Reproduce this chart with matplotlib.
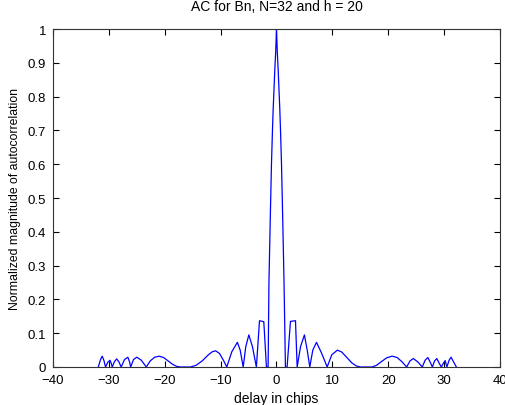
import matplotlib
matplotlib.use("Agg")
import matplotlib.pyplot as plt

# delay (chips) and normalized autocorrelation magnitude
delay = [-31.9, -31.5, -31.2, -30.9, -30.6, -30.2, -29.8, -29.6, -29.4,
         -29.0, -28.6, -28.2, -27.8, -27.2, -26.6, -26.3, -26.1, -25.6, -25.0,
         -24.2, -23.3, -22.6, -21.8, -21.0, -20.2, -19.4, -18.6, -17.9, -17.2,
         -15.4, -14.4, -13.3, -12.2, -11.5, -10.9, -10.2, -9.5, -8.9,
         -8.0, -7.0, -6.5, -5.96, -5.5, -4.95, -4.3, -3.6, -3.04, -2.27, -1.8,
         -1.5, -1.35, -1.1, -0.9, -0.72, -0.6, -0.45, -0.3, -0.15, 0.0,
         0.15, 0.3, 0.45, 0.6, 0.72, 0.9, 1.1, 1.35, 1.6,
         1.9, 2.5, 3.4, 3.7, 4.3, 5.0, 5.5, 5.96, 6.5, 7.16, 8.1, 9.07,
         9.9, 10.9, 11.7, 12.6, 13.5, 14.3, 15.0, 17.1,
         17.9, 18.8, 19.7, 20.7, 21.6, 22.5, 23.3,
         23.9, 24.5, 25.3, 26.1, 26.6, 27.1, 27.5, 27.9, 28.3, 28.7, 29.1, 29.5,
         29.9, 30.2, 30.5, 30.9, 31.25, 31.7, 32.2]
magnitude = [0.0, 0.022, 0.032, 0.02, 0.0, 0.014, 0.02, 0.012, 0.0,
             0.016, 0.024, 0.015, 0.0, 0.022, 0.029, 0.015, 0.0, 0.022, 0.029,
             0.02, 0.0, 0.018, 0.029, 0.032, 0.028, 0.018, 0.008, 0.002, 0.0,
             0.0, 0.005, 0.018, 0.036, 0.045, 0.048, 0.04, 0.02, 0.0,
             0.045, 0.073, 0.05, 0.0, 0.06, 0.095, 0.06, 0.0, 0.137, 0.134, 0.0,
             0.0, 0.25, 0.45, 0.6, 0.7, 0.76, 0.82, 0.88, 0.93, 1.0,
             0.93, 0.88, 0.82, 0.76, 0.7, 0.6, 0.45, 0.25, 0.0,
             0.0, 0.135, 0.137, 0.0, 0.06, 0.095, 0.05, 0.0, 0.05, 0.073, 0.04, 0.0,
             0.036, 0.05, 0.044, 0.028, 0.012, 0.003, 0.0, 0.0,
             0.005, 0.016, 0.027, 0.032, 0.028, 0.015, 0.0,
             0.018, 0.025, 0.015, 0.0, 0.02, 0.028, 0.015, 0.0, 0.018, 0.025, 0.012, 0.0,
             0.012, 0.019, 0.0, 0.02, 0.029, 0.015, 0.0]

x_ticks = list(range(-40, 41, 10))
y_ticks = [i / 10 for i in range(0, 11)]
y_tick_labels = ['0', '0.1', '0.2', '0.3', '0.4', '0.5', '0.6', '0.7', '0.8', '0.9', '1']

plt.rcParams['font.family'] = ['Liberation Sans', 'DejaVu Sans']

fig = plt.figure(figsize=(5.05, 4.06), dpi=100)
fig.patch.set_facecolor('white')
ax = fig.add_axes([0.105, 0.0936, 0.885, 0.8324])
ax.plot(delay, magnitude, color='#0000ff', linewidth=0.9)

ax.set_xlim(-40, 40)
ax.set_ylim(0, 1)
ax.set_xticks(x_ticks)
ax.set_yticks(y_ticks)
ax.set_yticklabels(y_tick_labels)
ax.tick_params(direction='in', top=True, right=True, length=4, width=0.8,
               labelsize=9.5, colors='black')
ax.tick_params(axis='x', pad=5)
ax.tick_params(axis='y', pad=5)
for s in ax.spines.values():
    s.set_linewidth(0.8)
    s.set_color('#333333')

ax.set_title('AC for Bn, N=32 and h = 20', fontsize=10, pad=14)
ax.set_xlabel('delay in chips', fontsize=10, labelpad=4)
ax.set_ylabel('Normalized magnitude of autocorrelation', fontsize=8.8, labelpad=5)

fig.savefig('out.png', dpi=100)
